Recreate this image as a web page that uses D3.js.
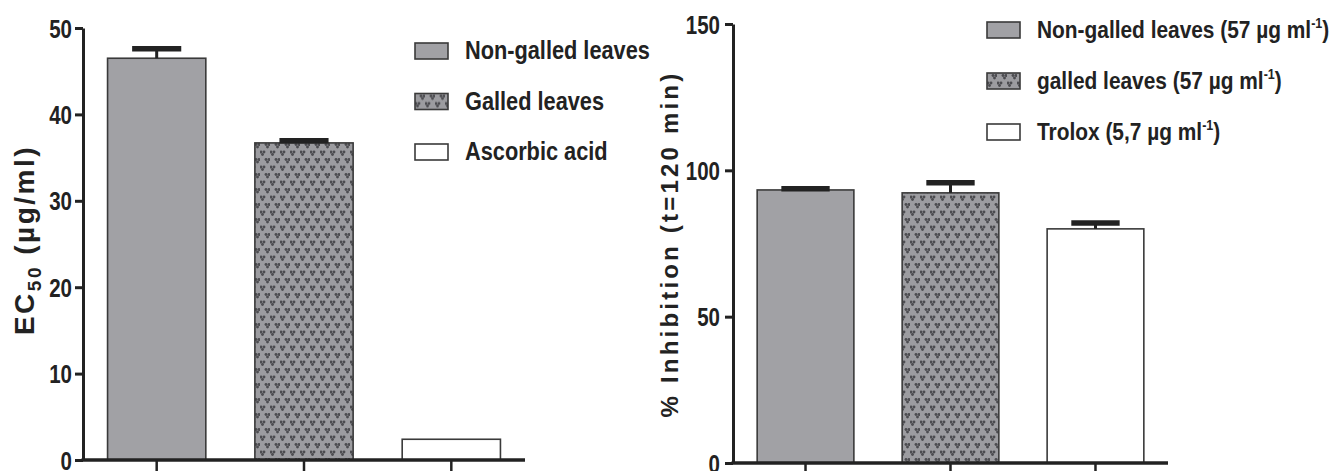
<!DOCTYPE html>
<html>
<head>
<meta charset="utf-8">
<script src="https://cdn.jsdelivr.net/npm/d3@7"></script>
<style>
 body{margin:0;background:#fff}
 svg text{font-family:"Liberation Sans",Arial,sans-serif;font-weight:bold;fill:#222}
</style>
</head>
<body>
<svg id="chart" width="1338" height="471"></svg>
<script>
// left panel: EC50
var ecCategories=["Non-galled leaves","Galled leaves","Ascorbic acid"];
var ecValues=[46.5,36.7,2.4];
var ecErrors=[1.1,0.25,0];
var ecTicks=[0,10,20,30,40,50];

// right panel: % inhibition at t=120 min
var inhCategories=["Non-galled leaves (57 µg ml-1)","galled leaves (57 µg ml-1)","Trolox (5,7 µg ml-1)"];
var inhValues=[93.3,92.3,80.0];
var inhErrors=[0.4,3.5,2.0];
var inhTicks=[0,50,100,150];

var fills=["#a1a1a5","url(#dots)","#ffffff"];
var svg=d3.select("#chart");

// dotted fill of the "galled" bars
var defs=svg.append("defs");
var pat=defs.append("pattern").attr("id","dots").attr("patternUnits","userSpaceOnUse")
 .attr("width",10).attr("height",15);
pat.append("rect").attr("width",10).attr("height",15).attr("fill","#9c9ca0");
[[2.5,2],[7.5,9.5]].forEach(function(p)
{
 [[-1.5,0],[1.5,0],[0,2.5]].forEach(function(o)
 {
  pat.append("circle").attr("cx",p[0]+o[0]).attr("cy",p[1]+o[1]).attr("r",1.45).attr("fill","#4c4c50");
 });
});

function panel(opt)
{
 var x=d3.scaleBand().domain(opt.cats).range([opt.x0,opt.x1]).paddingInner(0.333).paddingOuter(0.1667);
 var y=d3.scaleLinear().domain([0,opt.max]).range([opt.y0,opt.y1]);
 var g=svg.append("g");

 // bars
 g.selectAll("rect.bar").data(opt.vals).enter().append("rect").attr("class","bar")
  .attr("x",function(d,i){return x(opt.cats[i]);})
  .attr("y",function(d){return y(d);})
  .attr("width",x.bandwidth())
  .attr("height",function(d){return y(0)-y(d);})
  .attr("fill",function(d,i){return fills[i];})
  .attr("stroke","#3a3a3a").attr("stroke-width",1.6);

 // error bars
 opt.vals.forEach(function(v,i)
 {
  if(!opt.errs[i])return;
  var cx=x(opt.cats[i])+x.bandwidth()/2,top=y(v+opt.errs[i]);
  g.append("line").attr("x1",cx).attr("x2",cx).attr("y1",y(v)).attr("y2",top)
   .attr("stroke","#222").attr("stroke-width",3);
  g.append("line").attr("x1",cx-x.bandwidth()/4).attr("x2",cx+x.bandwidth()/4)
   .attr("y1",top).attr("y2",top).attr("stroke","#222").attr("stroke-width",5.5);
 });

 // axes
 var ya=g.append("g").attr("transform","translate("+opt.x0+",0)")
  .call(d3.axisLeft(y).tickValues(opt.ticks).tickSize(8).tickSizeOuter(0));
 ya.select(".domain").attr("stroke","#222").attr("stroke-width",3);
 ya.selectAll(".tick line").attr("stroke","#222").attr("stroke-width",3);
 ya.selectAll(".tick text").attr("font-size",25).attr("fill","#222").attr("dy","0.36em")
  .attr("x",0).attr("transform","translate("+opt.tpad+",0) scale(0.82,1)");

 var xa=g.append("g").attr("transform","translate(0,"+opt.y0+")")
  .call(d3.axisBottom(x).tickSize(12).tickSizeOuter(0).tickFormat(""));
 xa.select(".domain").attr("stroke","#222").attr("stroke-width",3.5)
  .attr("d","M"+(opt.x0-1.5)+",0H"+opt.x1);
 xa.selectAll(".tick line").attr("stroke","#222").attr("stroke-width",2.5);

 // legend
 var lg=g.append("g").attr("transform","translate("+opt.lx+","+opt.ly+")");
 opt.cats.forEach(function(c,i)
 {
  var row=lg.append("g").attr("transform","translate(0,"+(i*opt.lstep)+")");
  row.append("rect").attr("x",0).attr("y",-8).attr("width",33).attr("height",16)
   .attr("fill",fills[i]).attr("stroke","#3a3a3a").attr("stroke-width",1.6);
  var t=row.append("text").attr("transform","translate("+opt.ltx+",8) scale(0.87,1)")
   .attr("font-size",opt.lfs);
  var m=c.match(/^(.*ml)-1(.*)$/);
  if(m)
  {
   t.append("tspan").text(m[1]);
   t.append("tspan").attr("font-size",opt.lfs*0.6).attr("dy",-10).text("-1");
   t.append("tspan").attr("dy",10).text(m[2]);
  }
  else t.text(c);
 });
 return g;
}

panel({cats:ecCategories,vals:ecValues,errs:ecErrors,ticks:ecTicks,max:50,tpad:-11,
 x0:83,x1:525,y0:460,y1:28,lx:415,ly:51,lstep:50.5,ltx:50,lfs:25});
panel({cats:inhCategories,vals:inhValues,errs:inhErrors,ticks:inhTicks,max:150,tpad:-13,
 x0:733,x1:1168,y0:463,y1:24,lx:987,ly:30,lstep:51,ltx:50,lfs:24});

// axis titles
var t1=svg.append("text").attr("transform","translate(34,240) rotate(-90)")
 .attr("text-anchor","middle").attr("font-size",28).style("letter-spacing","2.5px");
t1.append("tspan").text("EC");
t1.append("tspan").attr("font-size",19).attr("dy",7).text("50");
t1.append("tspan").attr("dy",-7).text(" (µg/ml)");

svg.append("text").attr("transform","translate(678,244) rotate(-90)")
 .attr("text-anchor","middle").attr("font-size",24).style("letter-spacing","3.2px")
 .text("% Inhibition (t=120 min)");
</script>
</body>
</html>
